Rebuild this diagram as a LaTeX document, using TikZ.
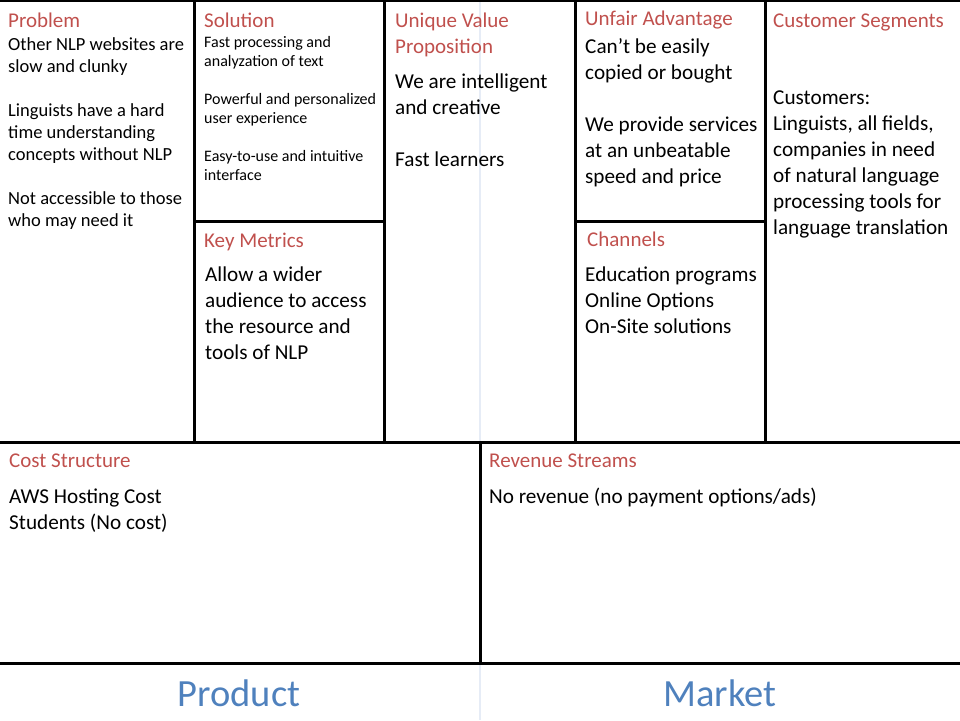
\documentclass[tikz,border=0pt]{standalone}
\usepackage{fontspec}
\setmainfont{Carlito}
\usepackage{xcolor}
\usepackage{tikz}
\usetikzlibrary{positioning}

\definecolor{headred}{HTML}{C0504D}
\definecolor{sideblue}{HTML}{4F81BD}
\definecolor{guideblue}{HTML}{E6ECF6}

\tikzset{
  gridline/.style={line width=3pt},
  cell/.style={anchor=north west,inner sep=0pt,align=left,execute at begin node=\strut},
  head/.style={cell,text=headred,font=\fontsize{21}{26}\selectfont},
  bigtxt/.style={cell,font=\fontsize{21.2}{26}\selectfont},
  midtxt/.style={cell,font=\fontsize{18.5}{22}\selectfont},
  smalltxt/.style={cell,font=\fontsize{16}{19}\selectfont},
  side/.style={anchor=base,inner sep=0pt,text=sideblue,font=\fontsize{38.5}{44}\selectfont}
}

\begin{document}
\begin{tikzpicture}[x=1pt,y=-1pt]
    \useasboundingbox (0,0) rectangle (960,720);
    % faint guide in the middle
    \draw[guideblue,line width=2pt] (480,0) -- (480,720);
    % canvas grid
    \draw[gridline] (0,0) -- (960,0);
    \draw[gridline] (194,0) -- (194,442);
    \draw[gridline] (384,0) -- (384,442);
    \draw[gridline] (575,0) -- (575,442);
    \draw[gridline] (765,0) -- (765,442);
    \draw[gridline] (194,221) -- (384,221);
    \draw[gridline] (575,221) -- (765,221);
    \draw[gridline] (0,442) -- (960,442);
    \draw[gridline] (480,442) -- (480,663);
    \draw[gridline] (0,663) -- (960,663);

    \node[head] (problem) at (8,8.8) {Problem};
    \node[midtxt] (problemtxt) at (8,37.6) {Other NLP websites are\\slow and clunky\\[22pt]Linguists have a hard\\time understanding\\concepts without NLP\\[22pt]Not accessible to those\\who may need it};

    \node[head] (solution) at (204,8.8) {Solution};
    \node[smalltxt] (solutiontxt) at (204,35.7) {Fast processing and\\analyzation of text\\[19pt]Powerful and personalized\\user experience\\[19pt]Easy-to-use and intuitive\\interface};

    \node[head] (metrics) at (204,228.8) {Key Metrics};
    \node[bigtxt] (metricstxt) at (205,266.8) {Allow a wider\\audience to access\\the resource and\\tools of NLP};

    \node[head] (uvp) at (395,12.8) {Unique Value\\Proposition};
    \node[bigtxt] (uvptxt) at (395,73.8) {We are intelligent\\and creative\\[26pt]Fast learners};

    \node[head] (advantage) at (585,6.8) {Unfair Advantage};
    \node[bigtxt] (advantagetxt) at (585,38.8) {Can’t be easily\\copied or bought\\[26pt]We provide services\\at an unbeatable\\speed and price};

    \node[head] (channels) at (587,227.8) {Channels};
    \node[bigtxt] (channelstxt) at (585,266.8) {Education programs\\Online Options\\On-Site solutions};

    \node[head] (segments) at (773,8.8) {Customer Segments};
    \node[bigtxt] (segmentstxt) at (773,90.8) {Customers:\\Linguists, all fields,\\companies in need\\of natural language\\processing tools for\\language translation};

    \node[head] (cost) at (9,448.8) {Cost Structure};
    \node[bigtxt] (costtxt) at (9,488.8) {AWS Hosting Cost\\Students (No cost)};

    \node[head] (revenue) at (489,448.8) {Revenue Streams};
    \node[bigtxt] (revenuetxt) at (489,484.8) {No revenue (no payment options/ads)};

    \node[side] (product) at (239,706) {Product};
    \node[side] (market) at (720,706) {Market};
\end{tikzpicture}
\end{document}
